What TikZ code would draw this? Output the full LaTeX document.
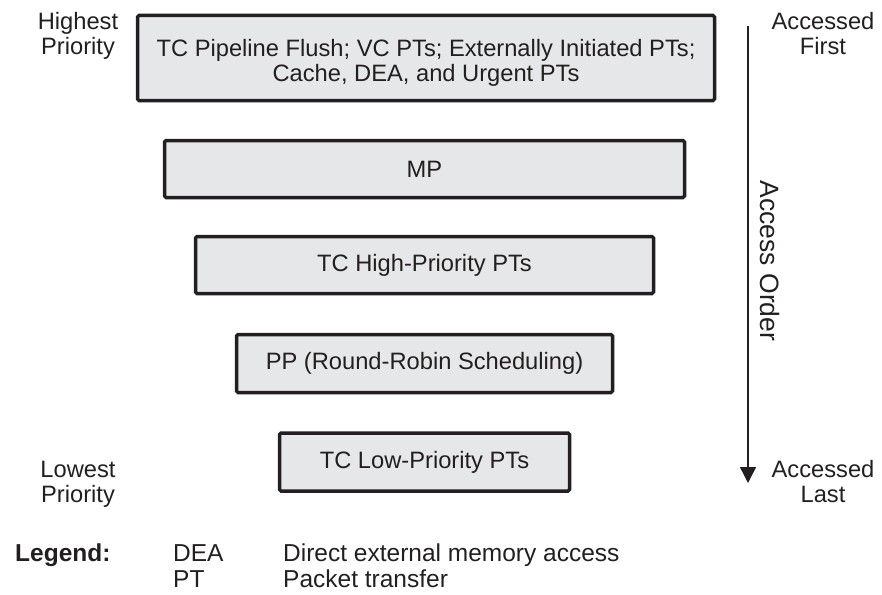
\documentclass[tikz,border=0pt]{standalone}
\usepackage{fontspec}
\setmainfont{Liberation Sans}
\usetikzlibrary{arrows.meta}
\definecolor{edge}{HTML}{231F20}
\definecolor{boxfill}{HTML}{E6E7E8}
\begin{document}
\begin{tikzpicture}[x=1pt,y=1pt,
  font=\fontsize{23.7}{25}\selectfont,
  prio/.style={draw=edge, fill=boxfill, line width=3.5pt, rounded corners=1.5pt,
    align=center, text=edge, inner sep=0pt},
  lbl/.style={anchor=base, text=edge, inner sep=0pt},
  lgd/.style={anchor=base west, text=edge, inner sep=0pt,
    font=\fontsize{24.5}{26}\selectfont}]
\useasboundingbox (0,0) rectangle (882,-594);
% priority boxes
\node[prio, minimum width=577, minimum height=85] (b1) at (426,-58) {};
\node[align=center, text=edge, inner sep=0pt, anchor=base] (t1) at (426,-81.5)
  {TC Pipeline Flush; VC PTs; Externally Initiated PTs;\\Cache, DEA, and Urgent PTs};
\node[prio, minimum width=520, minimum height=57] (b2) at (424.5,-169) {MP};
\node[prio, minimum width=458, minimum height=57] (b3) at (424.5,-265) {TC High-Priority PTs};
\node[prio, minimum width=376, minimum height=58] (b4) at (424.5,-363.5) {PP (Round-Robin Scheduling)};
\node[prio, minimum width=290, minimum height=58] (b5) at (424.5,-462) {TC Low-Priority PTs};
% left labels
\node[lbl] (hi1) at (78,-30) {Highest};
\node[lbl] (hi2) at (78,-55) {Priority};
\node[lbl] (lo1) at (78,-477) {Lowest};
\node[lbl] (lo2) at (78,-502) {Priority};
% right labels
\node[lbl] (af1) at (823,-30) {Accessed};
\node[lbl] (af2) at (823,-55) {First};
\node[lbl] (al1) at (823,-477) {Accessed};
\node[lbl] (al2) at (823,-502) {Last};
% access order arrow
\coordinate (atop) at (748,-26);
\coordinate (abot) at (748,-483);
\draw[edge, line width=1.4pt, -{Triangle[length=16pt, width=16pt]}] (atop) -- (abot);
\node[rotate=-90, text=edge, inner sep=0pt, font=\fontsize{26.5}{28}\selectfont] (ao) at (769.5,-261) {Access Order};
% legend
\node[lgd, font=\fontsize{24.5}{26}\selectfont\bfseries] (lg) at (15,-561) {Legend:};
\node[lgd] (k1) at (173,-561) {DEA};
\node[lgd] (v1) at (283,-561) {Direct external memory access};
\node[lgd] (k2) at (173,-587) {PT};
\node[lgd] (v2) at (283,-587) {Packet transfer};
\end{tikzpicture}
\end{document}
